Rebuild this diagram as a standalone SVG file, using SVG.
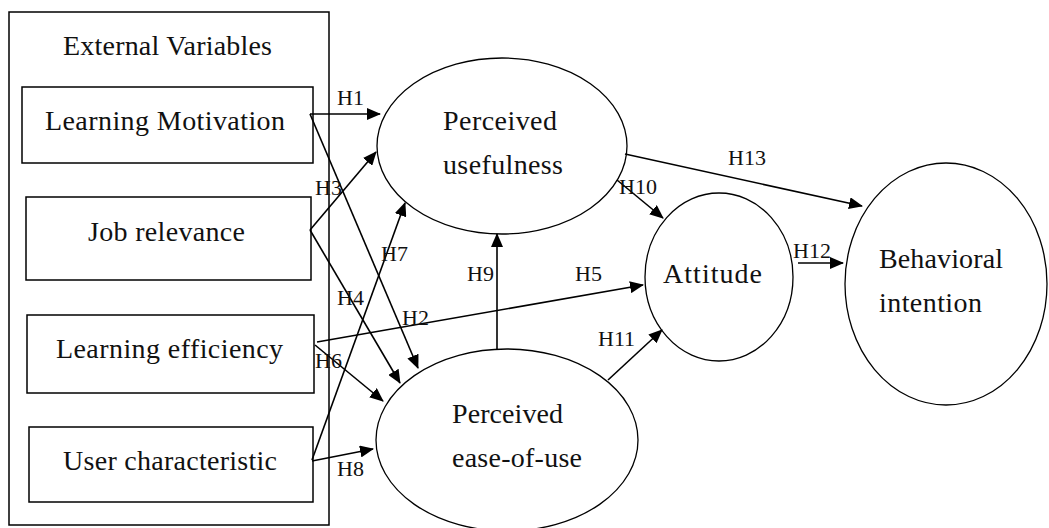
<svg xmlns="http://www.w3.org/2000/svg" width="1049" height="528" viewBox="0 0 1049 528">
<style>
.box{fill:none;stroke:#000;stroke-width:1.5}
.ell{fill:none;stroke:#000;stroke-width:1.3}
.t{font-family:"Liberation Serif","Times New Roman",serif;font-size:28px;fill:#111}
.h{font-family:"Liberation Serif","Times New Roman",serif;font-size:22px;fill:#111}
.c{fill:none;stroke:#000;stroke-width:1.6;marker-end:url(#arr)}
</style>
<defs>
<marker id="arr" viewBox="0 0 14 12" refX="13" refY="6" markerWidth="14" markerHeight="12" markerUnits="userSpaceOnUse" orient="auto">
<path d="M0,0 L14,6 L0,12 z" fill="#000"/>
</marker>
</defs>
<rect width="1049" height="528" fill="#fff"/>
<g id="external">
<rect class="box" x="9" y="12" width="320" height="513"/>
<text class="t" x="63" y="55" textLength="209" lengthAdjust="spacing">External Variables</text>
</g>
<g id="learning-motivation">
<rect class="box" x="22" y="87" width="291" height="76"/>
<text class="t" x="45" y="130" textLength="240" lengthAdjust="spacing">Learning Motivation</text>
</g>
<g id="job-relevance">
<rect class="box" x="26" y="197" width="285" height="83"/>
<text class="t" x="88" y="241" textLength="157" lengthAdjust="spacing">Job relevance</text>
</g>
<g id="learning-efficiency">
<rect class="box" x="27" y="315" width="287" height="78"/>
<text class="t" x="56" y="358" textLength="227" lengthAdjust="spacing">Learning efficiency</text>
</g>
<g id="user-characteristic">
<rect class="box" x="29" y="427" width="284" height="75"/>
<text class="t" x="63" y="470" textLength="214" lengthAdjust="spacing">User characteristic</text>
</g>
<g id="perceived-usefulness">
<ellipse class="ell" cx="502" cy="146" rx="125" ry="88"/>
<text class="t" x="443" y="130" textLength="114" lengthAdjust="spacing">Perceived</text>
<text class="t" x="443" y="174" textLength="120" lengthAdjust="spacing">usefulness</text>
</g>
<g id="perceived-ease-of-use">
<ellipse class="ell" cx="507" cy="440" rx="131" ry="91"/>
<text class="t" x="452" y="423" textLength="111" lengthAdjust="spacing">Perceived</text>
<text class="t" x="452" y="467" textLength="130" lengthAdjust="spacing">ease-of-use</text>
</g>
<g id="attitude">
<ellipse class="ell" cx="719" cy="277" rx="74" ry="84"/>
<text class="t" x="663" y="283" textLength="99" lengthAdjust="spacing">Attitude</text>
</g>
<g id="behavioral-intention">
<ellipse class="ell" cx="946" cy="284" rx="101" ry="121"/>
<text class="t" x="879" y="268" textLength="124" lengthAdjust="spacing">Behavioral</text>
<text class="t" x="879" y="312" textLength="103" lengthAdjust="spacing">intention</text>
</g>
<g id="connectors">
<line class="c" x1="310" y1="114" x2="380" y2="114"/>
<line class="c" x1="310" y1="114" x2="418" y2="368"/>
<line class="c" x1="310" y1="230" x2="376" y2="152"/>
<line class="c" x1="310" y1="230" x2="400" y2="383"/>
<line class="c" x1="317" y1="342" x2="643" y2="285"/>
<line class="c" x1="315" y1="345" x2="383" y2="401"/>
<line class="c" x1="312" y1="460" x2="405" y2="203"/>
<line class="c" x1="312" y1="461" x2="373" y2="449"/>
<line class="c" x1="497" y1="350" x2="497" y2="234"/>
<line class="c" x1="617" y1="180" x2="663" y2="218"/>
<line class="c" x1="608" y1="380" x2="662" y2="330"/>
<line class="c" x1="798" y1="263" x2="843" y2="263"/>
<line class="c" x1="625" y1="154" x2="862" y2="206"/>
<g id="labels">
<text class="h" x="337" y="105">H1</text>
<text class="h" x="402" y="325">H2</text>
<text class="h" x="315" y="195">H3</text>
<text class="h" x="337" y="305">H4</text>
<text class="h" x="575" y="281">H5</text>
<text class="h" x="315" y="368">H6</text>
<text class="h" x="381" y="261">H7</text>
<text class="h" x="337" y="476">H8</text>
<text class="h" x="467" y="281">H9</text>
<text class="h" x="619" y="194">H10</text>
<text class="h" x="598" y="346">H11</text>
<text class="h" x="793" y="258">H12</text>
<text class="h" x="728" y="165">H13</text>
</g>
</g>
</svg>
